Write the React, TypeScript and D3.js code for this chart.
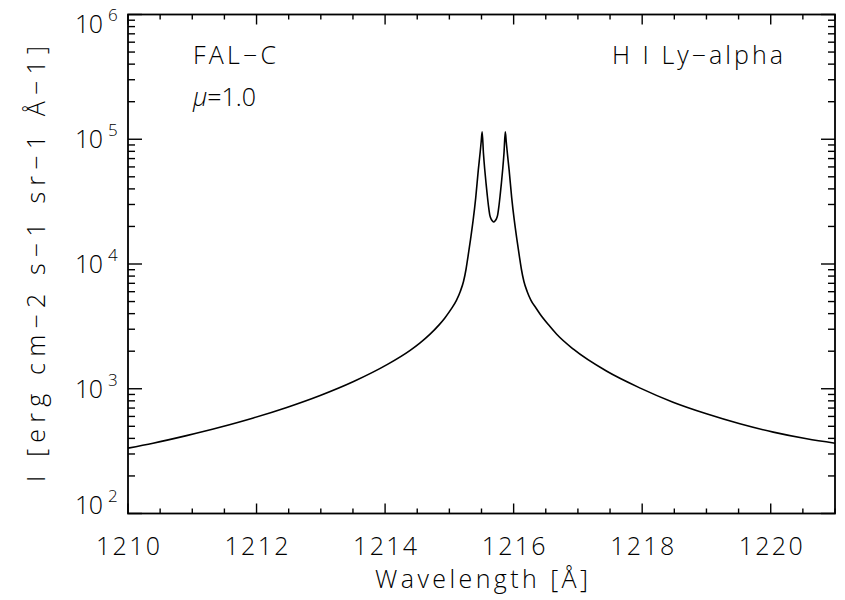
import React from "react";
import * as d3 from "d3";

const wavelength = [
  1210.0, 1210.39, 1210.91, 1211.43, 1211.95, 1212.47, 1212.99, 1213.51, 1214.03,
  1214.39, 1214.54, 1214.7, 1214.84, 1214.93, 1215.03, 1215.11, 1215.17, 1215.22,
  1215.26, 1215.29, 1215.33, 1215.37, 1215.41, 1215.45, 1215.48, 1215.495, 1215.51,
  1215.53, 1215.55, 1215.57, 1215.59, 1215.61, 1215.63, 1215.65, 1215.67, 1215.69,
  1215.71, 1215.73, 1215.75, 1215.77, 1215.79, 1215.81, 1215.83, 1215.85, 1215.87,
  1215.885, 1215.9, 1215.93, 1215.97, 1216.01, 1216.05, 1216.09, 1216.12, 1216.16,
  1216.21, 1216.27, 1216.35, 1216.41, 1216.54, 1216.67, 1216.93, 1217.45, 1217.97,
  1218.48, 1219.0, 1219.52, 1220.04, 1220.56, 1221.0,
];
const intensity = [
  334, 366, 421, 491, 583, 708, 883, 1143, 1560,
  2032, 2323, 2742, 3251, 3698, 4365, 5117, 6030, 7240,
  9120, 11480, 15850, 22440, 33900, 56500, 79400, 95500, 114600,
  77600, 57500, 44700, 35500, 28800, 24500, 22900, 22100, 21700,
  22100, 22900, 24500, 28800, 35500, 44700, 57500, 77600, 114600,
  95500, 79400, 56500, 33900, 22440, 15850, 11480, 9120, 7240,
  6030, 5120, 4420, 3980, 3270, 2735, 2075, 1380, 1012,
  780, 630, 524, 449, 397, 366,
];

const xTickValues = [1210, 1212, 1214, 1216, 1218, 1220];
const xTickLabels = ["1210", "1212", "1214", "1216", "1218", "1220"];
const yDecades = [100, 1000, 10000, 100000, 1000000];
const yExponents = ["2", "3", "4", "5", "6"];

const xTitle = "Wavelength [Å]";
const yTitle = "I [erg cm−2 s−1 sr−1 Å−1]";
const annotLeft1 = "FAL−C";
const annotLeft2 = "=1.0";
const annotRight = "H I Ly−alpha";

const W = 845;
const H = 600;
const L = 128;
const R = 835;
const T = 14.5;
const B = 513.5;
const FONT = "'Open Sans', 'DejaVu Sans', sans-serif";
const FW = 300;

export default function App() {
  const x = d3.scaleLinear().domain([1210, 1221]).range([L, R]);
  const y = d3.scaleLog().domain([100, 1e6]).range([B, T]);

  const pts: [number, number][] = wavelength.map((w, i) => [w, intensity[i]]);
  const line = d3
    .line<[number, number]>()
    .x((d) => x(d[0]))
    .y((d) => y(d[1]))
    .curve(d3.curveMonotoneX);

  const xMinorTicks = d3.range(1210, 1221.001, 0.5).filter((v) => !xTickValues.includes(v));
  const yMinor: number[] = [];
  yDecades.slice(0, -1).forEach((d) => {
    for (let k = 2; k <= 9; k++) yMinor.push(d * k);
  });

  const xMaj = 10, xMin = 5, yMaj = 14, yMin = 7;
  const sw = 1.4;

  return (
    <svg
      width={W}
      height={H}
      style={{ position: "absolute", left: 0, top: 0, background: "#fff" }}
      fontFamily={FONT}
      fontWeight={FW}
    >
      <rect x={0} y={0} width={W} height={H} fill="#fff" />
      <rect x={L} y={T} width={R - L} height={B - T} fill="none" stroke="#000" strokeWidth={1.8} />

      {xTickValues.map((v) => (
        <g key={"xm" + v}>
          <line x1={x(v)} x2={x(v)} y1={B} y2={B - xMaj} stroke="#000" strokeWidth={sw} />
          <line x1={x(v)} x2={x(v)} y1={T} y2={T + xMaj} stroke="#000" strokeWidth={sw} />
        </g>
      ))}
      {xMinorTicks.map((v) => (
        <g key={"xn" + v}>
          <line x1={x(v)} x2={x(v)} y1={B} y2={B - xMin} stroke="#000" strokeWidth={sw} />
          <line x1={x(v)} x2={x(v)} y1={T} y2={T + xMin} stroke="#000" strokeWidth={sw} />
        </g>
      ))}
      {xTickValues.map((v, i) => (
        <text key={"xl" + v} x={x(v)} y={555} textAnchor="middle" fontSize={25} textLength={64} lengthAdjust="spacing">
          {xTickLabels[i]}
        </text>
      ))}

      {yDecades.map((v) => (
        <g key={"ym" + v}>
          <line x1={L} x2={L + yMaj} y1={y(v)} y2={y(v)} stroke="#000" strokeWidth={sw} />
          <line x1={R} x2={R - yMaj} y1={y(v)} y2={y(v)} stroke="#000" strokeWidth={sw} />
        </g>
      ))}
      {yMinor.map((v) => (
        <g key={"yn" + v}>
          <line x1={L} x2={L + yMin} y1={y(v)} y2={y(v)} stroke="#000" strokeWidth={sw} />
          <line x1={R} x2={R - yMin} y1={y(v)} y2={y(v)} stroke="#000" strokeWidth={sw} />
        </g>
      ))}
      {yDecades.map((v, i) => {
        const yy = y(v);
        let base = yy + 9;
        if (i === yDecades.length - 1) base = yy + 18.5;
        if (i === 0) base = yy;
        return (
          <g key={"yl" + v}>
            <text x={75} y={base} fontSize={25} textLength={28} lengthAdjust="spacing">10</text>
            <text x={108} y={base - 12} fontSize={17}>{yExponents[i]}</text>
          </g>
        );
      })}

      <path d={line(pts) || ""} fill="none" stroke="#000" strokeWidth={1.6} strokeLinejoin="round" />

      <text x={(L + R) / 2} y={588} textAnchor="middle" fontSize={25} textLength={213} lengthAdjust="spacing">
        {xTitle}
      </text>
      <text
        transform={`translate(45,${(T + B) / 2}) rotate(-90)`}
        textAnchor="middle"
        fontSize={25}
        textLength={436}
        lengthAdjust="spacing"
      >
        {yTitle}
      </text>

      <text x={193} y={64} fontSize={25} textLength={83} lengthAdjust="spacing">{annotLeft1}</text>
      <text x={193} y={106} fontSize={25}>
        <tspan fontStyle="italic">μ</tspan>
        <tspan>{annotLeft2}</tspan>
      </text>
      <text x={612} y={64} fontSize={25} textLength={171} lengthAdjust="spacing">{annotRight}</text>
    </svg>
  );
}
